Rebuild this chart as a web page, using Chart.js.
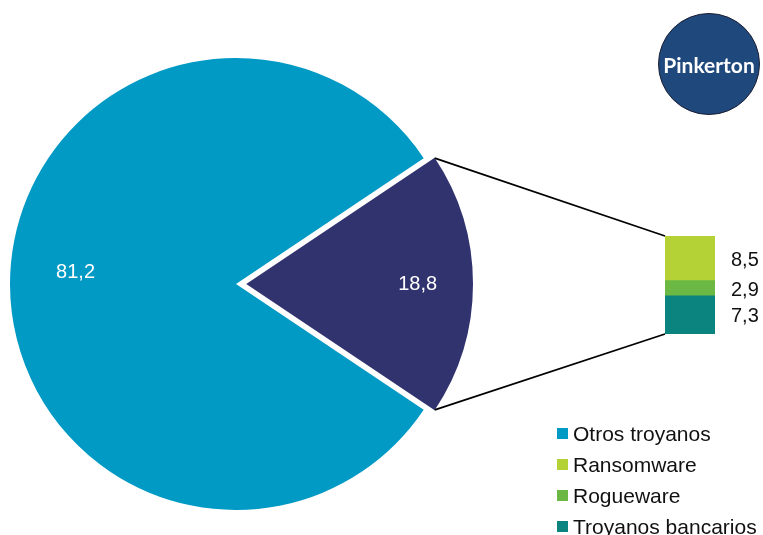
<!DOCTYPE html>
<html>
<head>
<meta charset="utf-8">
<script src="https://cdn.jsdelivr.net/npm/chart.js@4.4.1/dist/chart.umd.min.js"></script>
<style>
  body { margin: 0; background: #fff; font-family: "Liberation Sans", Arial, sans-serif; }
  #wrap { position: relative; width: 763px; height: 535px; overflow: hidden; }
  #wrap canvas { position: absolute; left: 0; top: 0; }
  #badge {
    position: absolute; left: 658px; top: 13px; width: 100px; height: 100px;
    border-radius: 50%; background: #1f497d; border: 1px solid #1b1f33;
    color: #fff; font: bold 21px Lato, "Noto Sans", sans-serif;
    display: flex; align-items: center; justify-content: center;
  }
  #legend { position: absolute; left: 557px; top: 418px; }
  .item { height: 31px; display: flex; align-items: center; font-size: 21px; color: #111; white-space: nowrap; }
  .item i { display: inline-block; width: 11px; height: 11px; margin-right: 5px; }
</style>
</head>
<body>
<div id="wrap">
  <canvas id="pie" width="763" height="535"></canvas>
  <canvas id="bar" width="763" height="535"></canvas>
  <div id="badge">Pinkerton</div>
  <div id="legend"></div>
</div>
<script>
// main split: other trojans vs. the group broken down on the right
const pieLabels = ['Otros troyanos', 'Resto'];
const pieValues = [81.2, 18.8];

// breakdown of the exploded slice, top to bottom
const subLabels = ['Ransomware', 'Rogueware', 'Troyanos bancarios'];
const subValues = [8.5, 2.9, 7.3];

const legendLabels = ['Otros troyanos', 'Ransomware', 'Rogueware', 'Troyanos bancarios'];

const pieColors = ['#009ac4', '#31336f'];
const subColors = ['#b4d236', '#6bb944', '#0b847f'];
const legendColors = ['#009ac4', '#b4d236', '#6bb944', '#0b847f'];

function fmt(v) {
  return v.toFixed(1).replace('.', ',');
}

// rotate so the small slice sits centred on the right-hand side
const pieTotal = pieValues.reduce((a, b) => a + b, 0);
const pieRotation = 90 - 360 * (pieValues[0] + pieValues[1] / 2) / pieTotal;

// Chart.js moves an arc by offset/4 * (2 - sin(circumference)); pick the
// option value that gives an 11px gap for the small slice
const smallCirc = 2 * Math.PI * pieValues[1] / pieTotal;
const explode = 11 * 4 / (2 - Math.sin(Math.min(Math.PI, smallCirc)));

function arcShift(arc) {
  const off = (arc.options.offset || 0) / 4;
  return off * (2 - Math.sin(Math.min(Math.PI, arc.circumference || 0)));
}

const pieLabelPlugin = {
  id: 'pieLabels',
  afterDatasetsDraw(chart) {
    const ctx = chart.ctx;
    const arcs = chart.getDatasetMeta(0).data;
    ctx.save();
    ctx.fillStyle = '#fff';
    ctx.font = '20px "Liberation Sans", Arial, sans-serif';
    ctx.textAlign = 'center';
    ctx.textBaseline = 'middle';
    arcs.forEach((arc, i) => {
      const p = arc.getProps(['x', 'y', 'startAngle', 'endAngle', 'outerRadius']);
      const mid = (p.startAngle + p.endAngle) / 2;
      const off = arc.options.offset ? arcShift(arc) : 0;
      const r = p.outerRadius * (i === 0 ? 0.71 : 0.755) + off;
      const dy = i === 0 ? -12 : 0;
      ctx.fillText(fmt(pieValues[i]), p.x + Math.cos(mid) * r, p.y + Math.sin(mid) * r + dy);
    });
    ctx.restore();
  }
};

const pieChart = new Chart(document.getElementById('pie'), {
  type: 'pie',
  data: {
    labels: pieLabels,
    datasets: [{
      data: pieValues,
      backgroundColor: pieColors,
      borderWidth: 0,
      offset: [0, explode]
    }]
  },
  options: {
    responsive: false,
    animation: false,
    rotation: pieRotation,
    radius: 226,
    layout: { padding: { left: 0, right: 291, top: 33, bottom: 0 } },
    plugins: { legend: { display: false }, tooltip: { enabled: false } }
  },
  plugins: [pieLabelPlugin]
});

// connector lines from the exploded slice to the stacked bar, plus value labels
const barDecorPlugin = {
  id: 'barDecor',
  afterDatasetsDraw(chart) {
    const ctx = chart.ctx;
    const arc = pieChart.getDatasetMeta(0).data[1];
    const p = arc.getProps(['x', 'y', 'startAngle', 'endAngle', 'outerRadius']);
    const mid = (p.startAngle + p.endAngle) / 2;
    const off = arcShift(arc);
    const cx = p.x + Math.cos(mid) * off;
    const cy = p.y + Math.sin(mid) * off;
    const topPt = [cx + Math.cos(p.startAngle) * p.outerRadius, cy + Math.sin(p.startAngle) * p.outerRadius];
    const botPt = [cx + Math.cos(p.endAngle) * p.outerRadius, cy + Math.sin(p.endAngle) * p.outerRadius];

    const n = chart.data.datasets.length;
    const topBar = chart.getDatasetMeta(n - 1).data[0];
    const botBar = chart.getDatasetMeta(0).data[0];
    const left = topBar.x - topBar.width / 2;

    ctx.save();
    ctx.strokeStyle = '#000';
    ctx.lineWidth = 1.8;
    ctx.beginPath();
    ctx.moveTo(topPt[0], topPt[1]);
    ctx.lineTo(left, topBar.y);
    ctx.moveTo(botPt[0], botPt[1]);
    ctx.lineTo(left, botBar.base);
    ctx.stroke();

    ctx.fillStyle = '#111';
    ctx.font = '20px "Liberation Sans", Arial, sans-serif';
    ctx.textAlign = 'left';
    ctx.textBaseline = 'middle';
    chart.data.datasets.forEach((ds, i) => {
      const bar = chart.getDatasetMeta(i).data[0];
      ctx.fillText(fmt(ds.data[0]), bar.x + bar.width / 2 + 16, (bar.y + bar.base) / 2 + 2);
    });
    ctx.restore();
  }
};

// stacked bar: the first dataset sits at the bottom, so reverse the top-to-bottom order
const barOrder = subLabels.map((_, i) => i).reverse();
const subTotal = subValues.reduce((a, b) => a + b, 0);

new Chart(document.getElementById('bar'), {
  type: 'bar',
  data: {
    labels: [''],
    datasets: barOrder.map(i => ({
      label: subLabels[i],
      data: [subValues[i]],
      backgroundColor: subColors[i],
      borderWidth: 0,
      barPercentage: 1,
      categoryPercentage: 1
    }))
  },
  options: {
    responsive: false,
    animation: false,
    layout: { padding: { left: 665, right: 48, top: 236, bottom: 201 } },
    scales: {
      x: { stacked: true, display: false },
      y: { stacked: true, display: false, min: 0, max: subTotal }
    },
    plugins: { legend: { display: false }, tooltip: { enabled: false } }
  },
  plugins: [barDecorPlugin]
});

// legend
const legendEl = document.getElementById('legend');
legendLabels.forEach((label, i) => {
  const row = document.createElement('div');
  row.className = 'item';
  row.innerHTML = '<i style="background:' + legendColors[i] + '"></i>' + label;
  legendEl.appendChild(row);
});
</script>
</body>
</html>
